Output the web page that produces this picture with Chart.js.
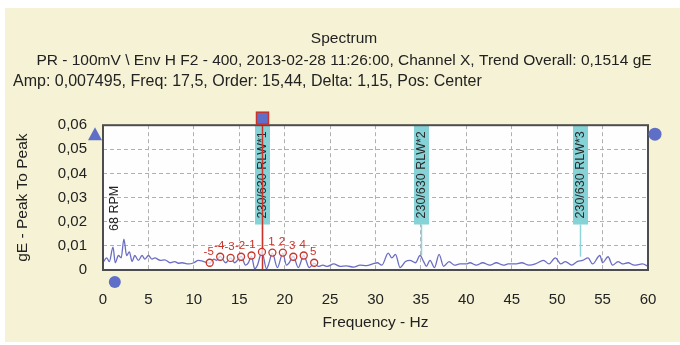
<!DOCTYPE html>
<html>
<head>
<meta charset="utf-8">
<script src="https://cdn.jsdelivr.net/npm/chart.js@4"></script>
<style>
  html, body { margin: 0; padding: 0; background: #fff; }
  #frame { position: absolute; left: 5px; top: 8px; width: 675px; height: 334px; background: #f6f2d5; }
  #wrap { position: absolute; left: 0; top: 0; width: 680px; height: 345px; }
</style>
</head>
<body>
<div id="frame"></div>
<div id="wrap"><canvas id="spectrum" width="680" height="345"></canvas></div>
<script>
// spectrum (Hz / gE peak to peak)
const freq = [
  0.0, 0.4, 0.7, 1.1, 1.35, 1.7, 2.0, 2.3, 2.6, 2.9, 3.2, 3.5, 3.9, 4.3, 4.6, 5.0,
  5.4, 5.7, 6.3, 6.8, 7.4, 7.9, 8.3, 8.7, 9.4, 10.0, 10.5, 11.1, 11.5, 11.75, 12.2,
  12.5, 12.9, 13.5, 14.05, 14.5, 14.8, 15.2, 15.7, 16.0, 16.35, 16.7, 17.0, 17.5,
  18.0, 18.2, 18.65, 19.2, 19.8, 20.2, 20.5, 20.95, 21.5, 22.1, 22.7, 23.25, 23.7,
  24.2, 24.7, 25.4, 26.1, 26.8, 27.6, 28.3, 29.0, 29.7, 30.2, 30.7, 31.4, 31.8,
  32.2, 32.7, 33.3, 33.8, 34.4, 34.9, 35.3, 35.6, 36.0, 36.5, 37.0, 37.5, 38.1,
  38.7, 39.3, 40.0, 40.4, 41.1, 41.8, 42.6, 43.3, 44.1, 44.6, 45.4, 46.1, 46.9,
  47.6, 48.5, 49.1, 49.8, 50.4, 50.9, 51.6, 52.2, 52.8, 53.4, 53.9, 54.7, 55.0,
  55.6, 56.1, 56.7, 57.2, 57.8, 58.5, 59.4, 60.0
];
const amp = [
  0.003, 0.005, 0.0035, 0.0095, 0.003, 0.006, 0.005, 0.0128, 0.006, 0.0075, 0.0035, 0.006, 0.004, 0.006, 0.0045, 0.006,
  0.0045, 0.005, 0.004, 0.0042, 0.003, 0.0035, 0.0028, 0.003, 0.0025, 0.003, 0.004, 0.0035, 0.003, 0.0028, 0.0045,
  0.004, 0.0057, 0.003, 0.005, 0.003, 0.004, 0.0057, 0.002, 0.003, 0.0057, 0.0005, 0.002, 0.0075,
  0.0005, 0.002, 0.007, 0.001, 0.007, 0.002, 0.003, 0.0057, 0.001, 0.006, 0.001, 0.0028, 0.0015,
  0.002, 0.0015, 0.0025, 0.0015, 0.0017, 0.0012, 0.002, 0.0018, 0.0025, 0.003, 0.002, 0.007, 0.005,
  0.0065, 0.001, 0.0035, 0.004, 0.003, 0.006, 0.0035, 0.0015, 0.004, 0.001, 0.0065, 0.0015, 0.0035,
  0.002, 0.0025, 0.0025, 0.003, 0.002, 0.003, 0.002, 0.003, 0.002, 0.0025, 0.0025, 0.003, 0.002,
  0.0025, 0.004, 0.0025, 0.005, 0.0025, 0.0035, 0.002, 0.0035, 0.004, 0.005, 0.0025, 0.006, 0.003,
  0.0055, 0.002, 0.0035, 0.0025, 0.003, 0.002, 0.0025, 0.0015
];

const xTickValues = [0, 5, 10, 15, 20, 25, 30, 35, 40, 45, 50, 55, 60];
const yTickValues = [0, 0.01, 0.02, 0.03, 0.04, 0.05, 0.06];

const cursorFreq = 17.5;
const cursorAmp = 0.007495;

const harmonicFreq = [17.5, 35, 52.5];
const harmonicAmp = [0.0075, 0.006, 0.0055];
const harmonicLabels = ["230/630 RLW*1", "230/630 RLW*2", "230/630 RLW*3"];

const sidebandOrder = ["-5", "-4", "-3", "-2", "-1", "1", "2", "3", "4", "5"];
const sidebandFreq = [11.75, 12.9, 14.05, 15.2, 16.35, 18.65, 19.8, 20.95, 22.1, 23.25];
const sidebandAmp = [0.003, 0.0055, 0.005, 0.0055, 0.006, 0.0072, 0.0072, 0.0055, 0.006, 0.003];

const rpmFreq = 1.13;
const rpmLabel = "68 RPM";
const handleFreq = 1.3;

const titleLines = [
  "Spectrum",
  "PR - 100mV \\ Env H F2 - 400, 2013-02-28 11:26:00, Channel X, Trend Overall: 0,1514 gE",
];
const subtitleLine = "Amp: 0,007495, Freq: 17,5, Order: 15,44, Delta: 1,15, Pos: Center";

const FONT = "'Liberation Sans', Arial, sans-serif";
const RED = "#c8342a";
const BLUE = "#5f6fc8";

const overlays = {
  id: "overlays",
  beforeDraw(chart) {
    const { ctx, chartArea: a } = chart;
    ctx.save();
    ctx.fillStyle = "#fefefe";
    ctx.fillRect(a.left, a.top, a.width, a.height);
    ctx.restore();
  },
  beforeDatasetsDraw(chart) {
    const { ctx, chartArea: a, scales: { x, y } } = chart;
    ctx.save();
    ctx.font = "12.5px " + FONT;
    harmonicFreq.forEach((f, i) => {
      const px = Math.round(x.getPixelForValue(f));
      const w = ctx.measureText(harmonicLabels[i]).width;
      const h = w + 12;
      // stem down to the peak
      ctx.strokeStyle = "#8ed6da";
      ctx.lineWidth = 1.5;
      ctx.beginPath();
      ctx.moveTo(px + 0.5, a.top + h);
      ctx.lineTo(px + 0.5, y.getPixelForValue(harmonicAmp[i]));
      ctx.stroke();
      ctx.fillStyle = "#86d3d7";
      ctx.fillRect(px - 7, a.top, 15, h);
      ctx.save();
      ctx.translate(px + 1, a.top + h / 2);
      ctx.rotate(-Math.PI / 2);
      ctx.fillStyle = "#2a2a2a";
      ctx.textAlign = "center";
      ctx.textBaseline = "middle";
      ctx.fillText(harmonicLabels[i], 0, 0);
      ctx.restore();
    });
    // cursor
    const cx = Math.round(x.getPixelForValue(cursorFreq)) + 0.5;
    ctx.strokeStyle = RED;
    ctx.lineWidth = 1.5;
    ctx.beginPath();
    ctx.moveTo(cx, a.top - 12);
    ctx.lineTo(cx, a.bottom);
    ctx.stroke();
    ctx.restore();
  },
  afterDatasetsDraw(chart) {
    const { ctx, chartArea: a, scales: { x, y } } = chart;
    ctx.save();
    ctx.strokeStyle = "#4d4d4d";
    ctx.lineWidth = 2;
    ctx.strokeRect(a.left, a.top, a.width, a.height);

    // cursor handle
    const cx = Math.round(x.getPixelForValue(cursorFreq)) + 0.5;
    ctx.fillStyle = BLUE;
    ctx.fillRect(cx - 6, a.top - 13, 12, 12);
    ctx.strokeStyle = RED;
    ctx.lineWidth = 1.5;
    ctx.strokeRect(cx - 6, a.top - 13, 12, 12);

    // sideband numbers
    ctx.fillStyle = RED;
    ctx.font = "11.5px " + FONT;
    ctx.textAlign = "center";
    ctx.textBaseline = "middle";
    sidebandOrder.forEach((lbl, i) => {
      ctx.fillText(lbl, x.getPixelForValue(sidebandFreq[i]) - 1, y.getPixelForValue(sidebandAmp[i]) - 11);
    });

    // running speed
    ctx.save();
    ctx.translate(x.getPixelForValue(rpmFreq) + 1, y.getPixelForValue(0.0162));
    ctx.rotate(-Math.PI / 2);
    ctx.fillStyle = "#222";
    ctx.font = "12.5px " + FONT;
    ctx.textAlign = "left";
    ctx.fillText(rpmLabel, 0, 0);
    ctx.restore();

    // blue handles
    ctx.fillStyle = BLUE;
    ctx.beginPath();
    ctx.moveTo(a.left - 15, a.top + 15);
    ctx.lineTo(a.left - 8, a.top + 2);
    ctx.lineTo(a.left - 1, a.top + 15);
    ctx.closePath();
    ctx.fill();
    ctx.beginPath();
    ctx.arc(a.right + 7, a.top + 9, 6.5, 0, Math.PI * 2);
    ctx.fill();
    ctx.beginPath();
    ctx.arc(x.getPixelForValue(handleFreq), a.bottom + 12, 6, 0, Math.PI * 2);
    ctx.fill();
    ctx.restore();
  },
};

const ctx = document.getElementById("spectrum").getContext("2d");

new Chart(ctx, {
  type: "line",
  data: {
    datasets: [
      {
        data: freq.map((f, i) => ({ x: f, y: amp[i] })),
        borderColor: "#6b6dc4",
        borderWidth: 1.3,
        pointRadius: 0,
        cubicInterpolationMode: "monotone",
        order: 2,
      },
      {
        data: sidebandFreq
          .map((f, i) => ({ x: f, y: sidebandAmp[i] }))
          .concat([{ x: cursorFreq, y: cursorAmp }]),
        showLine: false,
        pointRadius: 3.5,
        pointBorderWidth: 1.3,
        pointBorderColor: RED,
        pointBackgroundColor: "rgba(255,255,255,0.7)",
        order: 1,
      },
    ],
  },
  options: {
    responsive: false,
    animation: false,
    layout: { padding: { left: 13, right: 5, top: 0, bottom: 0 } },
    plugins: {
      legend: { display: false },
      tooltip: { enabled: false },
      title: {
        display: true,
        text: titleLines,
        color: "#222",
        font: { family: FONT, size: 15.5, weight: "normal", lineHeight: 1.4 },
        padding: { top: 28, bottom: 0 },
      },
      subtitle: {
        display: true,
        text: subtitleLine,
        align: "start",
        color: "#222",
        font: { family: FONT, size: 16, weight: "normal", lineHeight: 1.3 },
        padding: { top: 0, bottom: 33 },
      },
    },
    scales: {
      x: {
        type: "linear",
        min: 0,
        max: 60,
        afterBuildTicks: (s) => { s.ticks = xTickValues.map((v) => ({ value: v })); },
        afterFit: (s) => { s.height = 75; },
        ticks: { padding: 21, color: "#222", font: { family: FONT, size: 15 } },
        grid: { color: "#b0b0b0", drawTicks: false },
        border: { display: false, dash: [4, 3] },
        title: {
          display: true,
          text: "Frequency - Hz",
          color: "#222",
          font: { family: FONT, size: 15.5 },
          padding: { top: 0, bottom: 13 },
        },
      },
      y: {
        min: 0,
        max: 0.06,
        afterBuildTicks: (s) => { s.ticks = yTickValues.map((v) => ({ value: v })); },
        afterFit: (s) => { s.width = 90; },
        ticks: {
          padding: 16,
          color: "#222",
          font: { family: FONT, size: 15 },
          callback: (v) => (v === 0 ? "0" : v.toFixed(2).replace(".", ",")),
        },
        grid: { color: "#b0b0b0", drawTicks: false },
        border: { display: false, dash: [4, 3] },
        title: {
          display: true,
          text: "gE - Peak To Peak",
          color: "#222",
          font: { family: FONT, size: 15.5 },
          padding: { top: 0, bottom: 0 },
        },
      },
      right: {
        position: "right",
        min: 0,
        max: 1,
        afterFit: (s) => { s.width = 27; },
        ticks: { display: false },
        grid: { display: false },
        border: { display: false },
      },
    },
  },
  plugins: [overlays],
});
</script>
</body>
</html>
